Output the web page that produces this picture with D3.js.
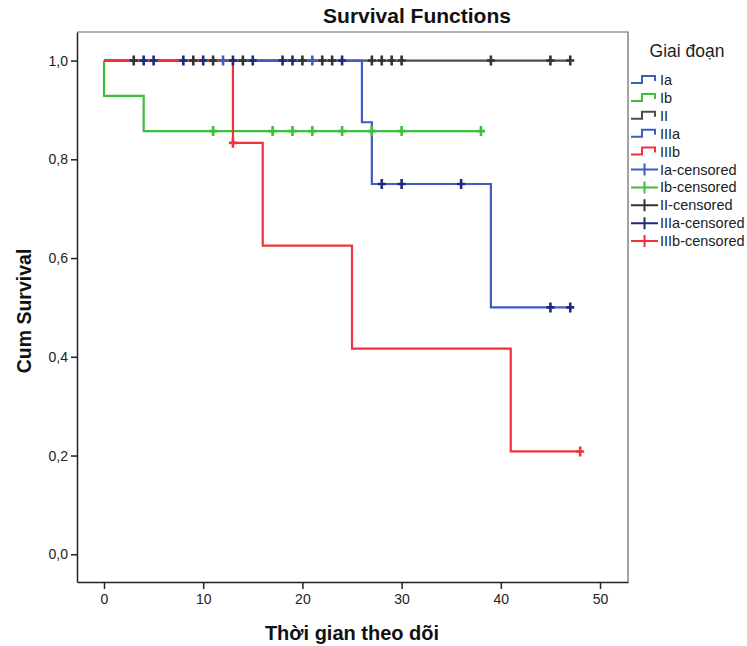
<!DOCTYPE html>
<html>
<head>
<meta charset="utf-8">
<script src="https://cdn.jsdelivr.net/npm/d3@7"></script>
<style>
  html, body { margin: 0; padding: 0; background: #fff; }
  svg { display: block; font-family: "Liberation Sans", Arial, sans-serif; }
</style>
</head>
<body>
<svg id="chart" width="747" height="646"></svg>
<script>
// Kaplan-Meier survival by stage (Giai đoạn)
const groups = ["Ia", "Ib", "II", "IIIa", "IIIb"];

// Step points: [time, survival after that time]
const stepsIa   = [[0, 1], [21, 1]];
const stepsIb   = [[0, 1], [0, 0.9286], [4, 0.8571], [38, 0.8571]];
const stepsII   = [[0, 1], [47, 1]];
const stepsIIIa = [[0, 1], [26, 0.875], [27, 0.75], [39, 0.5], [47, 0.5]];
const stepsIIIb = [[0, 1], [13, 0.8333], [16, 0.625], [25, 0.4167], [41, 0.2083], [48, 0.2083]];

// Censored observation times
const censIa   = [12, 21];
const censIb   = [11, 17, 19, 21, 24, 27, 30, 38];
const censII   = [3, 9, 11, 14, 20, 22, 23, 27, 28, 29, 30, 39, 45, 47];
const censIIIa = [4, 5, 8, 10, 13, 15, 18, 19, 24, 28, 30, 36, 45, 47];
const censIIIb = [13, 48];

const xTicks = [0, 10, 20, 30, 40, 50];
const yTicks = [0, 0.2, 0.4, 0.6, 0.8, 1.0];

const lineColors   = { Ia: "#3f5cbf", Ib: "#3dbe3d", II: "#4d4d4d", IIIa: "#3f5cbf", IIIb: "#f0323c" };
const censorColors = { Ia: "#3f5cbf", Ib: "#3dbe3d", II: "#333333", IIIa: "#1f2a7c", IIIb: "#f0323c" };

const steps = { Ia: stepsIa, Ib: stepsIb, II: stepsII, IIIa: stepsIIIa, IIIb: stepsIIIb };
const cens  = { Ia: censIa, Ib: censIb, II: censII, IIIa: censIIIa, IIIb: censIIIb };

const svg = d3.select("#chart");
const plot = { left: 77, right: 628, top: 32, bottom: 582 };

const x = d3.scaleLinear().domain([-2.72, 52.82]).range([plot.left, plot.right]);
const y = d3.scaleLinear().domain([-0.0561, 1.0578]).range([plot.bottom, plot.top]);

// frame (top and right)
svg.append("path")
  .attr("d", `M${plot.left},${plot.top}H${plot.right}V${plot.bottom}`)
  .attr("fill", "none").attr("stroke", "#666").attr("stroke-width", 1.2);

// axes
const fmt = d => d3.format(".1f")(d).replace(".", ",");
const yAxis = svg.append("g")
  .attr("transform", `translate(${plot.left},0)`)
  .call(d3.axisLeft(y).tickValues(yTicks).tickFormat(fmt).tickSize(6).tickSizeOuter(0).tickPadding(3));
const xAxis = svg.append("g")
  .attr("transform", `translate(0,${plot.bottom})`)
  .call(d3.axisBottom(x).tickValues(xTicks).tickFormat(d3.format("d")).tickSize(7).tickSizeOuter(0).tickPadding(5));
[yAxis, xAxis].forEach(g => {
  g.selectAll("path, line").attr("stroke", "#222").attr("stroke-width", 1.5);
  g.selectAll("text").attr("fill", "#222").attr("font-size", 14)
    .attr("font-family", "\"Liberation Sans\", Arial, sans-serif");
});

// survival curves
const line = d3.line().x(d => x(d[0])).y(d => y(d[1])).curve(d3.curveStepAfter);
groups.forEach(g => {
  svg.append("path")
    .datum(steps[g])
    .attr("d", line)
    .attr("fill", "none")
    .attr("stroke", lineColors[g])
    .attr("stroke-width", 2.2);
});

// survival value at time t (after any event at t)
function survAt(g, t) {
  let s = 1;
  steps[g].forEach(p => { if (p[0] <= t) s = p[1]; });
  return s;
}

// censor marks
groups.forEach(g => {
  const marks = svg.append("g");
  cens[g].forEach(t => {
    const cx = x(t), cy = y(survAt(g, t));
    marks.append("path")
      .attr("d", `M${cx - 4},${cy}H${cx + 4}M${cx},${cy - 5}V${cy + 5}`)
      .attr("stroke", censorColors[g])
      .attr("stroke-width", 2.6)
      .attr("fill", "none");
  });
});

// titles
svg.append("text")
  .attr("x", 417).attr("y", 23)
  .attr("text-anchor", "middle")
  .attr("font-size", 21).attr("font-weight", "bold").attr("fill", "#111")
  .text("Survival Functions");

svg.append("text")
  .attr("x", 352).attr("y", 640)
  .attr("text-anchor", "middle")
  .attr("font-size", 20).attr("font-weight", "bold").attr("fill", "#111")
  .text("Thời gian theo dõi");

svg.append("text")
  .attr("transform", "translate(31,311) rotate(-90)")
  .attr("text-anchor", "middle")
  .attr("font-size", 19.5).attr("font-weight", "bold").attr("fill", "#111")
  .text("Cum Survival");

// legend
const legend = svg.append("g");
legend.append("text")
  .attr("x", 687).attr("y", 57)
  .attr("text-anchor", "middle")
  .attr("font-size", 17.5).attr("fill", "#222")
  .text("Giai đoạn");

const legendItems = groups.map(g => ({ label: g, type: "line", g }))
  .concat(groups.map(g => ({ label: g + "-censored", type: "censor", g })));
const lx = 631, lw = 27, ly0 = 80, ldy = 17.9;
legendItems.forEach((item, i) => {
  const cy = ly0 + i * ldy;
  if (item.type === "line") {
    legend.append("path")
      .attr("d", `M${lx},${cy + 3}H${lx + 11}V${cy - 4}H${lx + 24}V${cy + 1}`)
      .attr("fill", "none").attr("stroke", lineColors[item.g]).attr("stroke-width", 2);
  } else {
    legend.append("path")
      .attr("d", `M${lx},${cy}H${lx + lw}M${lx + lw / 2},${cy - 6}V${cy + 6}`)
      .attr("fill", "none").attr("stroke", censorColors[item.g]).attr("stroke-width", 2);
  }
  legend.append("text")
    .attr("x", 660).attr("y", cy + 5)
    .attr("font-size", 14.5).attr("fill", "#222")
    .text(item.label);
});
</script>
</body>
</html>
